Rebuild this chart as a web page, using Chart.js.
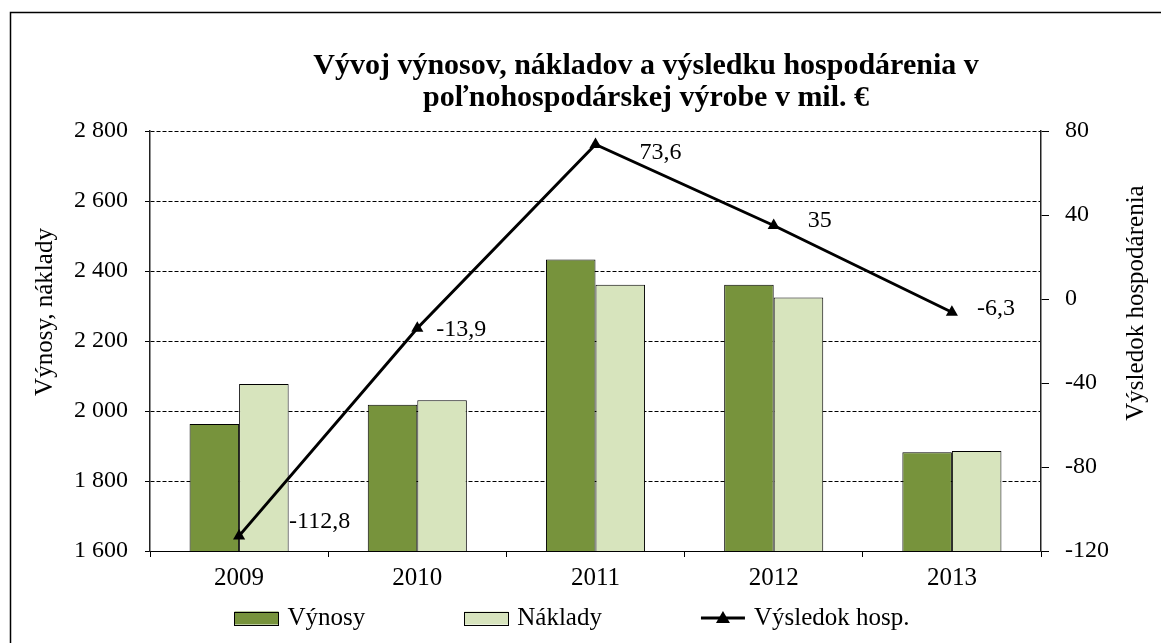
<!DOCTYPE html>
<html>
<head>
<meta charset="utf-8">
<style>
  html, body { margin: 0; padding: 0; background: #ffffff; }
  #wrap { width: 1161px; height: 643px; position: relative; }
</style>
<script src="https://cdn.jsdelivr.net/npm/chart.js@4.4.1/dist/chart.umd.min.js"></script>
</head>
<body>
<div id="wrap"><canvas id="c" width="1161" height="643"></canvas></div>
<script>
// ---- data ----
const categories = ['2009', '2010', '2011', '2012', '2013'];
const vynosy = [1963, 2018, 2433, 2361, 1882];
const naklady = [2077, 2031, 2361, 2324, 1886];
const vysledok = [-112.8, -13.9, 73.6, 35, -6.3];
const seriesNames = ['Výnosy', 'Náklady', 'Výsledok hosp.'];
const titleLines = ['Vývoj výnosov, nákladov a výsledku hospodárenia v', 'poľnohospodárskej výrobe v mil. €'];
const leftAxisTitle = 'Výnosy, náklady';
const rightAxisTitle = 'Výsledok hospodárenia';
const leftTicks = { min: 1600, max: 2800, step: 200 };
const rightTicks = { min: -120, max: 80, step: 40 };
// label nudges (style, relative to each point)
const labelNudge = [[50, -14], [19, 2], [44, 8], [34, -5], [25, -4]];

const FONT = '"Liberation Serif", "Times New Roman", serif';
const GREEN = '#77933C';
const LIGHT = '#D7E4BD';

function fmtThousands(v) {
  return String(v).replace(/\B(?=(\d{3})+(?!\d))/g, '\u00a0');
}
function fmtDec(v) {
  return String(v).replace('.', ',');
}

const decorPlugin = {
  id: 'decor',
  beforeDraw(chart) {
    const ctx = chart.ctx;
    ctx.save();
    ctx.fillStyle = '#ffffff';
    ctx.fillRect(0, 0, chart.width, chart.height);
    ctx.strokeStyle = '#000000';
    ctx.lineWidth = 1.5;
    ctx.strokeRect(10.5, 12.5, 3000, 3000);
    ctx.restore();
  },
  afterDraw(chart) {
    const ctx = chart.ctx;
    const ca = chart.chartArea;
    ctx.save();
    // title
    ctx.fillStyle = '#000';
    ctx.font = 'bold 30px ' + FONT;
    ctx.textAlign = 'center';
    ctx.textBaseline = 'alphabetic';
    ctx.fillText(titleLines[0], 646, 74);
    ctx.fillText(titleLines[1], 646, 106);
    // axis titles
    ctx.font = '25px ' + FONT;
    ctx.textBaseline = 'middle';
    ctx.save();
    ctx.translate(45, 312);
    ctx.rotate(-Math.PI / 2);
    ctx.fillText(leftAxisTitle, 0, 0);
    ctx.restore();
    ctx.save();
    ctx.translate(1136, 303);
    ctx.rotate(-Math.PI / 2);
    ctx.fillText(rightAxisTitle, 0, 0);
    ctx.restore();

    // data labels
    const lineIdx = 2;
    const meta = chart.getDatasetMeta(lineIdx);
    ctx.font = '24px ' + FONT;
    ctx.textAlign = 'left';
    ctx.textBaseline = 'middle';
    meta.data.forEach((pt, i) => {
      const n = labelNudge[i] || [20, 0];
      ctx.fillText(fmtDec(chart.data.datasets[lineIdx].data[i]), pt.x + n[0], pt.y + n[1]);
    });

    // legend
    ctx.font = '25px ' + FONT;
    const ly = 618;
    const boxW = 44, boxH = 13, gapText = 9, gapItem = 99;
    const ds = chart.data.datasets;
    const widths = ds.map(d => ctx.measureText(d.label).width);
    const total = widths.reduce((a, w) => a + boxW + gapText + w, 0) + gapItem * (ds.length - 1);
    let x = 572 - total / 2;
    ds.forEach((d, i) => {
      if (d.type === 'line') {
        ctx.strokeStyle = '#000';
        ctx.lineWidth = 3;
        ctx.beginPath();
        ctx.moveTo(x, ly);
        ctx.lineTo(x + boxW, ly);
        ctx.stroke();
        ctx.fillStyle = '#000';
        ctx.beginPath();
        ctx.moveTo(x + boxW / 2, ly - 7);
        ctx.lineTo(x + boxW / 2 + 7, ly + 5);
        ctx.lineTo(x + boxW / 2 - 7, ly + 5);
        ctx.closePath();
        ctx.fill();
      } else {
        ctx.fillStyle = d.backgroundColor;
        ctx.fillRect(x, ly - boxH / 2, boxW, boxH);
        ctx.strokeStyle = '#000';
        ctx.lineWidth = 1;
        ctx.strokeRect(Math.round(x) + 0.5, Math.round(ly - boxH / 2) + 0.5, boxW, boxH);
      }
      ctx.fillStyle = '#000';
      ctx.fillText(d.label, x + boxW + gapText, ly);
      x += boxW + gapText + widths[i] + gapItem;
    });
    ctx.restore();
  }
};

new Chart(document.getElementById('c'), {
  data: {
    labels: categories,
    datasets: [
      {
        type: 'bar', label: seriesNames[0], data: vynosy, yAxisID: 'y',
        backgroundColor: GREEN, borderColor: '#000', borderWidth: 1,
        categoryPercentage: 0.556, barPercentage: 1.0, order: 2
      },
      {
        type: 'bar', label: seriesNames[1], data: naklady, yAxisID: 'y',
        backgroundColor: LIGHT, borderColor: '#000', borderWidth: 1,
        categoryPercentage: 0.556, barPercentage: 1.0, order: 2
      },
      {
        type: 'line', label: seriesNames[2], data: vysledok, yAxisID: 'y1',
        borderColor: '#000', backgroundColor: '#000', borderWidth: 3,
        pointStyle: 'triangle', pointRadius: 7, pointBorderWidth: 0,
        tension: 0, fill: false, order: 0
      }
    ]
  },
  options: {
    responsive: false,
    animation: false,
    events: [],
    layout: { padding: { top: 131, bottom: 52, left: 0, right: 0 } },
    plugins: {
      legend: { display: false },
      title: { display: false },
      tooltip: { enabled: false }
    },
    scales: {
      x: {
        position: 'bottom',
        afterFit(s) { s.height = 40; },
        grid: { display: true, drawOnChartArea: false, drawTicks: true, tickLength: 6, color: '#000', tickColor: '#000', offset: true },
        border: { display: true, color: '#000', width: 1 },
        ticks: { color: '#000', font: { family: FONT, size: 25 }, padding: 6, maxRotation: 0 }
      },
      y: {
        position: 'left',
        min: leftTicks.min, max: leftTicks.max,
        afterFit(s) { s.width = 150; },
        grid: { display: true, drawOnChartArea: true, drawTicks: true, tickLength: 5, color: '#000', tickColor: '#000', lineWidth: 1 },
        border: { display: true, color: '#222', width: 1.5, dash: [4, 2] },
        ticks: {
          stepSize: leftTicks.step, color: '#000', padding: 17,
          font: { family: FONT, size: 24 },
          callback: (v) => fmtThousands(v)
        }
      },
      y1: {
        position: 'right',
        min: rightTicks.min, max: rightTicks.max,
        afterFit(s) { s.width = 120; },
        grid: { display: true, drawOnChartArea: false, drawTicks: true, tickLength: 8, color: '#000', tickColor: '#000' },
        border: { display: true, color: '#222', width: 1.5 },
        ticks: {
          stepSize: rightTicks.step, color: '#000', padding: 16,
          font: { family: FONT, size: 24 },
          callback: (v) => String(v)
        }
      }
    }
  },
  plugins: [decorPlugin]
});
</script>
</body>
</html>
